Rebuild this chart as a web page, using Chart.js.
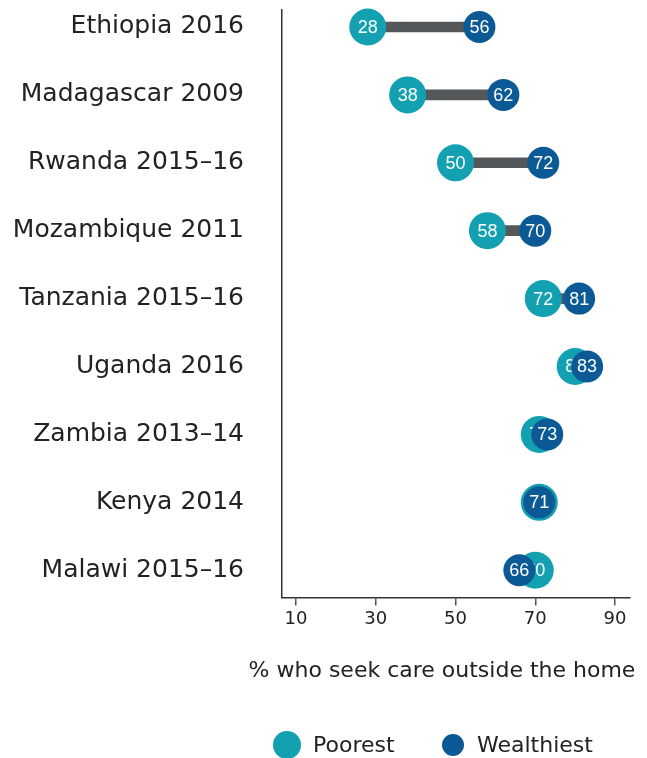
<!DOCTYPE html>
<html>
<head>
<meta charset="utf-8">
<script src="https://cdn.jsdelivr.net/npm/chart.js@4"></script>
<style>
  html, body { margin: 0; padding: 0; background: #fff; }
  #wrap { width: 647px; height: 758px; }
</style>
</head>
<body>
<div id="wrap"><canvas id="dumbbell"></canvas></div>
<script>
// data
const countries = ['Ethiopia 2016', 'Madagascar 2009', 'Rwanda 2015–16', 'Mozambique 2011',
  'Tanzania 2015–16', 'Uganda 2016', 'Zambia 2013–14', 'Kenya 2014', 'Malawi 2015–16'];
const poorest = [28, 38, 50, 58, 72, 80, 71, 71, 70];
const wealthiest = [56, 62, 72, 70, 81, 83, 73, 71, 66];
const xTicks = [10, 30, 50, 70, 90];
const xTitle = '% who seek care outside the home';

const TEAL = '#13a1b2';
const NAVY = '#0b5a96';
const GREY = '#54585a';
const labelFont = '"DejaVu Sans", sans-serif';

// white value labels inside the dots, drawn right after each dataset
const dotLabels = {
  id: 'dotLabels',
  afterDatasetDraw(chart, args) {
    const ds = chart.data.datasets[args.index];
    if (!ds.valueLabels) return;
    const ctx = chart.ctx;
    ctx.save();
    ctx.fillStyle = '#fff';
    ctx.font = '18px "Liberation Sans", Arial, sans-serif';
    ctx.textAlign = 'center';
    ctx.textBaseline = 'middle';
    args.meta.data.forEach((pt, i) => {
      ctx.fillText(String(ds.data[i].x), pt.x, pt.y + 1);
    });
    ctx.restore();
  }
};

// axis title + legend with two dot sizes
const dotLegend = {
  id: 'dotLegend',
  afterDraw(chart) {
    const ctx = chart.ctx;
    ctx.save();
    ctx.fillStyle = '#222';
    ctx.font = '22px ' + labelFont;
    ctx.textBaseline = 'middle';
    ctx.textAlign = 'center';
    ctx.fillText(xTitle, 442, 671);

    const y = 745;
    ctx.textAlign = 'left';
    ctx.fillText('Poorest', 313, y + 1);
    ctx.fillText('Wealthiest', 477, y + 1);
    ctx.fillStyle = TEAL;
    ctx.beginPath(); ctx.arc(287, y, 14, 0, Math.PI * 2); ctx.fill();
    ctx.fillStyle = NAVY;
    ctx.beginPath(); ctx.arc(453, y, 11, 0, Math.PI * 2); ctx.fill();
    ctx.restore();
  }
};

new Chart(document.getElementById('dumbbell'), {
  type: 'bar',
  data: {
    datasets: [
      {
        label: 'Wealthiest',
        type: 'line',
        showLine: false,
        order: 1,
        indexAxis: 'y',
        valueLabels: true,
        clip: false,
        data: wealthiest.map((v, i) => ({ x: v, y: i })),
        pointRadius: 16,
        pointHoverRadius: 16,
        pointBackgroundColor: NAVY,
        pointBorderWidth: 0,
        backgroundColor: NAVY
      },
      {
        label: 'Poorest',
        type: 'line',
        showLine: false,
        order: 2,
        indexAxis: 'y',
        valueLabels: true,
        clip: false,
        data: poorest.map((v, i) => ({ x: v, y: i })),
        pointRadius: 18.5,
        pointHoverRadius: 18.5,
        pointBackgroundColor: TEAL,
        pointBorderWidth: 0,
        backgroundColor: TEAL
      },
      {
        label: 'gap',
        type: 'bar',
        order: 3,
        indexAxis: 'y',
        data: poorest.map((v, i) => ({ x: [v, wealthiest[i]], y: i })),
        backgroundColor: GREY,
        barThickness: 10
      }
    ]
  },
  options: {
    indexAxis: 'y',
    responsive: true,
    maintainAspectRatio: false,
    animation: false,
    layout: { autoPadding: false, padding: { top: 10, right: 17, bottom: 125, left: 0 } },
    plugins: {
      legend: { display: false },
      tooltip: { enabled: false }
    },
    scales: {
      x: {
        type: 'linear',
        min: 6.5,
        max: 93.75,
        offset: false,
        afterBuildTicks: s => { s.ticks = xTicks.map(v => ({ value: v })); },
        grid: { drawOnChartArea: false, drawTicks: true, tickLength: 8, color: '#555', lineWidth: 1.5 },
        border: { display: true, color: '#333', width: 1.5 },
        ticks: { color: '#222', padding: 3, font: { family: labelFont, size: 18 } }
      },
      y: {
        type: 'linear',
        reverse: true,
        offset: false,
        min: -0.25,
        max: 8.4,
        afterBuildTicks: s => { s.ticks = countries.map((c, i) => ({ value: i })); },
        afterFit: s => { s.width = 282; s.paddingTop = 0; s.paddingBottom = 0; },
        grid: { display: false, drawTicks: false },
        border: { display: true, color: '#333', width: 1.5 },
        ticks: {
          color: '#222',
          padding: 38,
          font: { family: labelFont, size: 25 },
          callback: v => countries[v]
        }
      }
    }
  },
  plugins: [dotLabels, dotLegend]
});
</script>
</body>
</html>
